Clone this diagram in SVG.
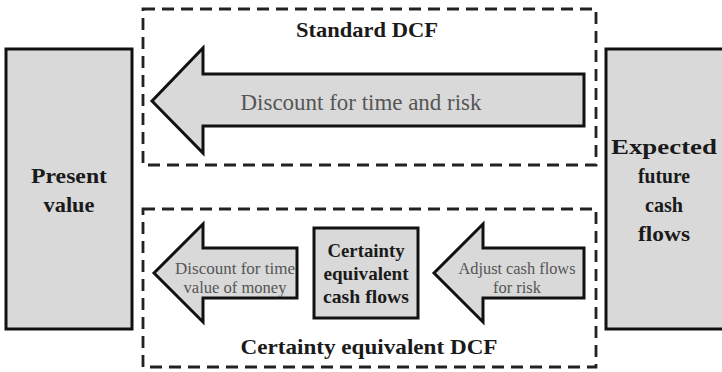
<svg xmlns="http://www.w3.org/2000/svg" width="722" height="372" viewBox="0 0 722 372">
<style>
.box{fill:#d9d9d9;stroke:#111;stroke-width:3}
.dash{fill:none;stroke:#222;stroke-width:2.8;stroke-dasharray:12 7}
.arr{fill:#d9d9d9;stroke:#111;stroke-width:3;stroke-linejoin:miter}
.b{font-weight:bold;fill:#1a1a1a;text-anchor:middle}
.g{fill:#555;text-anchor:middle}
</style>
<rect width="722" height="372" fill="#fff"/>
<g font-family="Liberation Serif, DejaVu Serif, Times New Roman, serif">
<g id="standard-dcf">
<rect class="dash" x="143" y="9" width="453" height="156"/>
<text class="b" x="367" y="37" font-size="21" textLength="142" lengthAdjust="spacingAndGlyphs">Standard DCF</text>
</g>
<g id="certainty-equivalent-dcf">
<rect class="dash" x="143" y="209" width="453" height="158"/>
<text class="b" x="369" y="354" font-size="22" textLength="257" lengthAdjust="spacingAndGlyphs">Certainty equivalent DCF</text>
</g>
<g id="present-value">
<rect class="box" x="6" y="49" width="126" height="280"/>
<text class="b" font-size="22" x="69" y="183" textLength="76" lengthAdjust="spacingAndGlyphs">Present</text>
<text class="b" font-size="22" x="69" y="212" textLength="51" lengthAdjust="spacingAndGlyphs">value</text>
</g>
<g id="expected-future-cash-flows">
<rect class="box" x="606" y="49" width="130" height="280"/>
<text class="b" font-size="22" x="664" y="154" textLength="106" lengthAdjust="spacingAndGlyphs">Expected</text>
<text class="b" font-size="22" x="664" y="183" textLength="52" lengthAdjust="spacingAndGlyphs">future</text>
<text class="b" font-size="22" x="664" y="212" textLength="38" lengthAdjust="spacingAndGlyphs">cash</text>
<text class="b" font-size="22" x="664" y="241" textLength="52" lengthAdjust="spacingAndGlyphs">flows</text>
</g>
<g id="certainty-equivalent-cash-flows">
<rect class="box" x="314" y="228" width="104" height="90"/>
<text class="b" font-size="19" x="366" y="257" textLength="77" lengthAdjust="spacingAndGlyphs">Certainty</text>
<text class="b" font-size="19" x="366" y="280" textLength="85" lengthAdjust="spacingAndGlyphs">equivalent</text>
<text class="b" font-size="19" x="366" y="303" textLength="86" lengthAdjust="spacingAndGlyphs">cash flows</text>
</g>
<g id="connectors">
<g id="arrow-discount-time-risk">
<polygon class="arr" points="152,101 203,48 203,74 584,74 584,126 203,126 203,153"/>
<text class="g" x="361" y="110" font-size="22.5" textLength="241" lengthAdjust="spacingAndGlyphs">Discount for time and risk</text>
</g>
<g id="arrow-discount-time-value">
<polygon class="arr" points="154,273 203,224 203,248 297,248 297,298 203,298 203,322"/>
<text class="g" font-size="17" x="235" y="274" textLength="120" lengthAdjust="spacingAndGlyphs">Discount for time</text>
<text class="g" font-size="17" x="235" y="293" textLength="103" lengthAdjust="spacingAndGlyphs">value of money</text>
</g>
<g id="arrow-adjust-risk">
<polygon class="arr" points="434,273 483,224 483,248 584,248 584,298 483,298 483,322"/>
<text class="g" font-size="17" x="517" y="274" textLength="117" lengthAdjust="spacingAndGlyphs">Adjust cash flows</text>
<text class="g" font-size="17" x="517" y="293" textLength="48" lengthAdjust="spacingAndGlyphs">for risk</text>
</g>
</g>
</g>
</svg>
